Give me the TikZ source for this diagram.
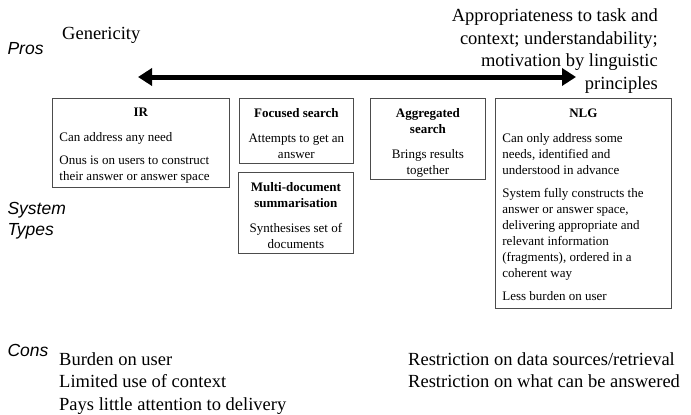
\documentclass[tikz,border=0pt]{standalone}
\usepackage{fontspec}
\setmainfont{Liberation Serif}
\setsansfont{Liberation Sans}
\usetikzlibrary{arrows.meta,positioning}
\newcommand{\boxcontent}[3]{\parbox[t][#2][t]{#1}{\vspace*{10pt}#3}}
\tikzset{
  typebox/.style={draw=black!70, line width=0.8pt, anchor=north west,
    inner xsep=7pt, inner ysep=0pt, font=\fontsize{13}{16}\selectfont},
  sidelabel/.style={anchor=west, align=left, font=\sffamily\itshape\fontsize{17.5}{21}\selectfont},
  bigtext/.style={font=\fontsize{18.5}{22.7}\selectfont, inner sep=0pt}
}
\begin{document}
\begin{tikzpicture}[x=1pt,y=-1pt]
\useasboundingbox (0,0) rectangle (691,415);
% side labels
\node[sidelabel] (pros) at (4,49) {Pros};
\node[sidelabel] (systypes) at (4,221) {System\\Types};
\node[sidelabel] (cons) at (4,350) {Cons};
% pros
\node[bigtext, anchor=west] (generic) at (62,35) {Genericity};
\node[bigtext, anchor=north east, align=right] (approp) at (658,8.5)
  {Appropriateness to task and\\context; understandability;\\motivation by linguistic\\principles};
\coordinate (left) at (138,77);
\coordinate (right) at (576,77);
\draw[line width=5pt, {Triangle[width=17pt,length=14pt]}-{Triangle[width=17pt,length=14pt]}] (left) -- (right);
% system types
\node[typebox] (ir) at (52,98) {\boxcontent{163pt}{89pt}{%
  {\centering\textbf{IR}\par}\vspace{9pt}
  Can address any need\par\vspace{7pt}
  Onus is on users to construct\\their answer or answer space}};
\node[typebox] (focused) at (239,98) {\boxcontent{100pt}{65pt}{\centering
  \textbf{Focused search}\par\vspace{9pt}
  Attempts to get an\\answer}};
\node[typebox] (multidoc) at (238,172) {\boxcontent{101pt}{81pt}{\centering
  \textbf{Multi-document}\\\textbf{summarisation}\par\vspace{9pt}
  Synthesises set of\\documents}};
\node[typebox] (aggregated) at (370,98) {\boxcontent{101pt}{81pt}{\centering
  \textbf{Aggregated}\\\textbf{search}\par\vspace{9pt}
  Brings results\\together}};
\node[typebox] (nlg) at (495,98) {\boxcontent{162pt}{210pt}{%
  {\centering\textbf{NLG}\par}\vspace{9pt}
  Can only address some\\needs, identified and\\understood in advance\par\vspace{7pt}
  System fully constructs the\\answer or answer space,\\delivering appropriate and\\relevant information\\(fragments), ordered in a\\coherent way\par\vspace{7pt}
  Less burden on user}};
% cons
\node[bigtext, anchor=north west, align=left] (consleft) at (59,352)
  {Burden on user\\Limited use of context\\Pays little attention to delivery};
\node[bigtext, anchor=north west, align=left] (consright) at (408,352)
  {Restriction on data sources/retrieval\\Restriction on what can be answered};
\end{tikzpicture}
\end{document}
